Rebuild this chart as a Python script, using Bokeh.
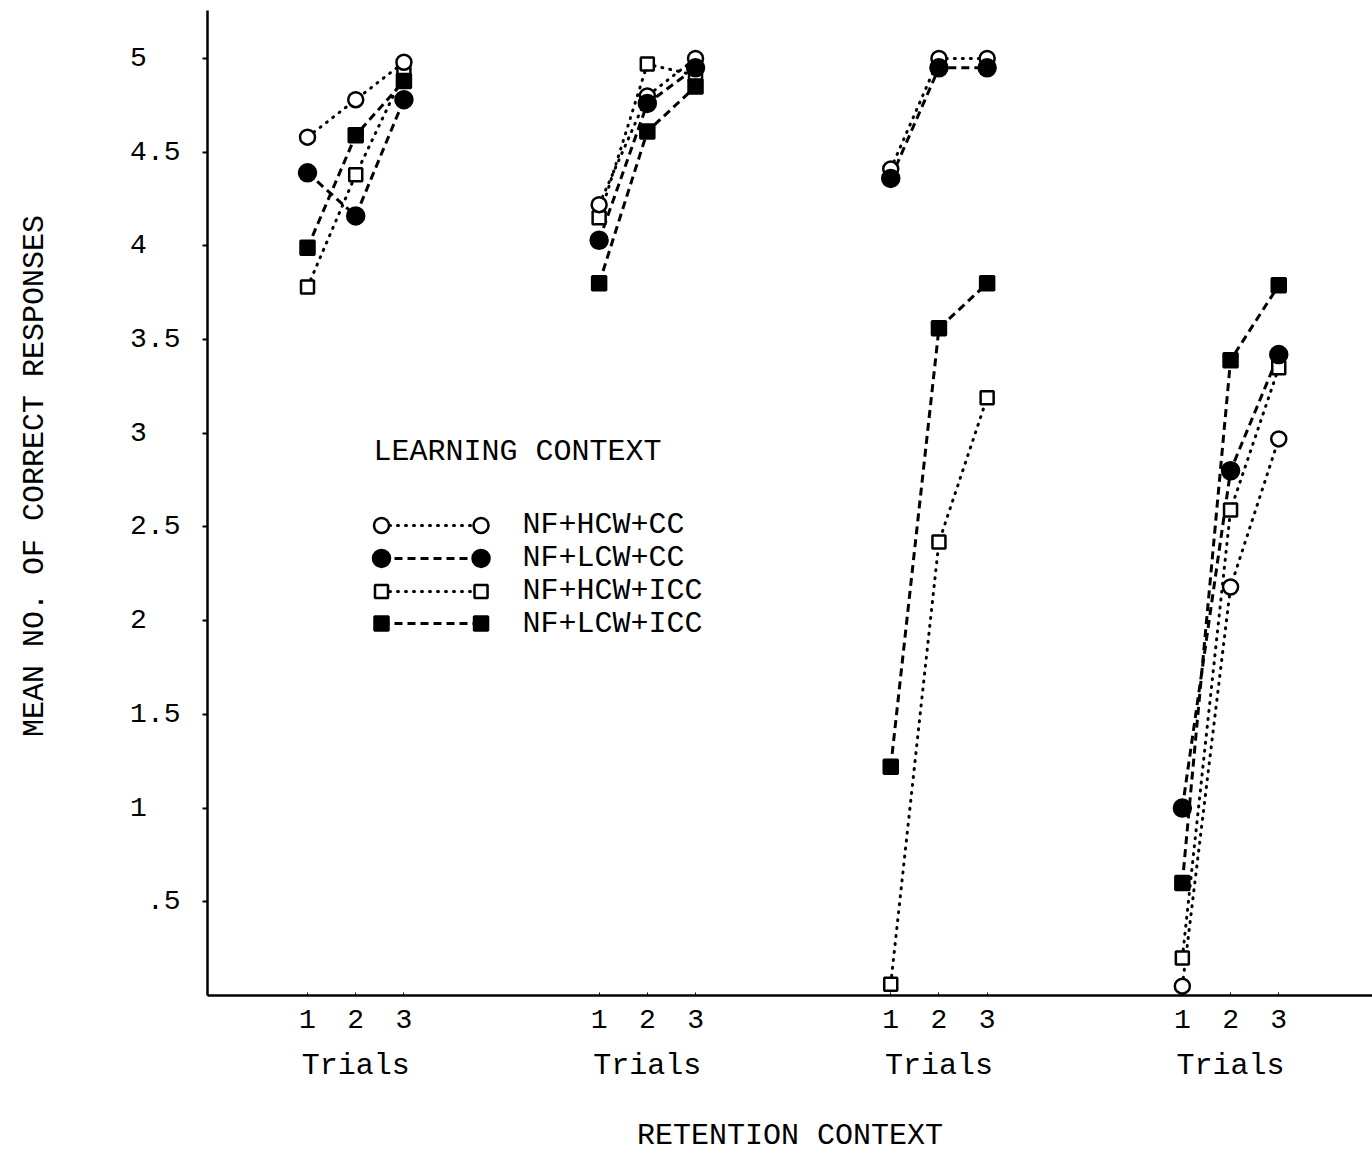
from bokeh.plotting import figure
from bokeh.models import FixedTicker, CustomJSTickFormatter, LinearAxis
from bokeh.core.properties import value
from bokeh.embed import file_html
from bokeh.resources import INLINE

# ---------------- data ----------------
trials = [1, 2, 3]
n_groups = 4  # retention contexts (unlabelled in the original)

series_names = ["NF+HCW+CC", "NF+LCW+CC", "NF+HCW+ICC", "NF+LCW+ICC"]

# mean no. of correct responses, one list per retention context (trial 1..3)
hcw_cc = [[4.58, 4.78, 4.98], [4.22, 4.80, 5.00], [4.41, 5.00, 5.00], [0.05, 2.18, 2.97]]
lcw_cc = [[4.39, 4.16, 4.78], [4.03, 4.76, 4.95], [4.36, 4.95, 4.95], [1.00, 2.80, 3.42]]
hcw_icc = [[3.78, 4.38, 4.92], [4.15, 4.97, 4.91], [0.06, 2.42, 3.19], [0.20, 2.59, 3.35]]
lcw_icc = [[3.99, 4.59, 4.88], [3.80, 4.61, 4.85], [1.22, 3.56, 3.80], [0.60, 3.39, 3.79]]

y_ticks = [0.5, 1, 1.5, 2, 2.5, 3, 3.5, 4, 4.5, 5]
y_tick_labels = [".5", "1\u00a0\u00a0", "1.5", "2\u00a0\u00a0", "2.5", "3\u00a0\u00a0",
                 "3.5", "4\u00a0\u00a0", "4.5", "5\u00a0\u00a0"]

# ---------------- layout / style ----------------
FONT = "Liberation Mono"
GAP = 6.05                     # distance between retention groups (in trial units)
X0, X1 = -1.075, 23.095
Y0, Y1 = 0.0, 5.256

styles = {
    "NF+HCW+CC": dict(marker="circle", fill="white", size=15, dash="1 7", cap="round", lw=3),
    "NF+LCW+CC": dict(marker="circle", fill="black", size=17, dash="8 5", cap="butt", lw=3),
    "NF+HCW+ICC": dict(marker="square", fill="white", size=13, dash="1 7", cap="round", lw=3),
    "NF+LCW+ICC": dict(marker="square", fill="black", size=14, dash="8 5", cap="butt", lw=3),
}
series_vals = {
    "NF+HCW+CC": hcw_cc,
    "NF+LCW+CC": lcw_cc,
    "NF+HCW+ICC": hcw_icc,
    "NF+LCW+ICC": lcw_icc,
}

p = figure(width=1372, height=1155, x_range=(X0, X1), y_range=(Y0, Y1),
           output_backend="svg", toolbar_location=None,
           min_border_left=207, min_border_right=0, min_border_top=10,
           min_border_bottom=160, background_fill_color="white",
           border_fill_color="white", outline_line_color=None)
p.grid.visible = False

def gx(g, t):
    return g * GAP + t

# lines
for name in series_names:
    st = styles[name]
    xs = [[gx(g, t) for t in trials] for g in range(n_groups)]
    ys = series_vals[name]
    p.multi_line(xs, ys, line_color="black", line_width=st["lw"],
                 line_dash=st["dash"], line_cap=st["cap"])

# markers
for name in ["NF+HCW+ICC", "NF+LCW+ICC", "NF+HCW+CC", "NF+LCW+CC"]:
    st = styles[name]
    xs = [gx(g, t) for g in range(n_groups) for t in trials]
    ys = [v for grp in series_vals[name] for v in grp]
    p.scatter(xs, ys, marker=st["marker"], size=st["size"], fill_color=st["fill"],
              line_color="black", line_width=2.5)

# ---------------- legend (drawn by hand) ----------------
LEG_TITLE_X, LEG_TITLE_Y = 2.37, 2.90
LEG_X_LEFT, LEG_X_RIGHT, LEG_X_TEXT = 2.535, 4.60, 5.46
LEG_ROWS_Y = [2.508, 2.332, 2.156, 1.985]

p.text(x=[LEG_TITLE_X], y=[LEG_TITLE_Y], text=["LEARNING CONTEXT"],
       text_font=value(FONT), text_font_size="30px", text_baseline="middle",
       text_align="left", text_color="black")
for name, ly in zip(series_names, LEG_ROWS_Y):
    st = styles[name]
    p.line([LEG_X_LEFT, LEG_X_RIGHT], [ly, ly], line_color="black", line_width=st["lw"],
           line_dash=st["dash"], line_cap=st["cap"])
    p.scatter([LEG_X_LEFT, LEG_X_RIGHT], [ly, ly], marker=st["marker"], size=st["size"],
              fill_color=st["fill"], line_color="black", line_width=2.5)
    p.text(x=[LEG_X_TEXT], y=[ly], text=[name], text_font=value(FONT),
           text_font_size="30px", text_baseline="middle", text_align="left",
           text_color="black")

# ---------------- axes ----------------
x_tick_pos = [gx(g, t) for g in range(n_groups) for t in trials]
x_tick_lab = [str(t) for g in range(n_groups) for t in trials]

xa = p.xaxis[0]
xa.ticker = FixedTicker(ticks=x_tick_pos)
xa.formatter = CustomJSTickFormatter(args=dict(labels=x_tick_lab), code="return labels[index];")
xa.axis_line_width = 2.5
xa.axis_line_color = "black"
xa.major_tick_in = 3
xa.major_tick_out = 0
xa.major_tick_line_color = "black"
xa.minor_tick_line_color = None
xa.major_label_text_font = FONT
xa.major_label_text_font_size = "28px"
xa.major_label_text_color = "black"
xa.major_label_standoff = 14

ax2 = LinearAxis(ticker=FixedTicker(ticks=[gx(g, 2) for g in range(n_groups)]),
                 formatter=CustomJSTickFormatter(code="return 'Trials';"),
                 axis_label="RETENTION CONTEXT")
ax2.axis_line_color = None
ax2.major_tick_line_color = None
ax2.minor_tick_line_color = None
ax2.major_label_text_font = FONT
ax2.major_label_text_font_size = "30px"
ax2.major_label_text_color = "black"
ax2.major_label_standoff = 12
ax2.axis_label_text_font = FONT
ax2.axis_label_text_font_size = "30px"
ax2.axis_label_text_font_style = "normal"
ax2.axis_label_text_color = "black"
ax2.axis_label_standoff = 33
p.add_layout(ax2, "below")

ya = p.yaxis[0]
ya.ticker = FixedTicker(ticks=y_ticks)
ya.formatter = CustomJSTickFormatter(args=dict(labels=y_tick_labels), code="return labels[index];")
ya.axis_line_width = 2.5
ya.axis_line_color = "black"
ya.major_tick_in = 0
ya.major_tick_out = 5
ya.major_tick_line_width = 2
ya.major_tick_line_color = "black"
ya.minor_tick_line_color = None
ya.major_label_text_font = FONT
ya.major_label_text_font_size = "28px"
ya.major_label_text_color = "black"
ya.major_label_standoff = 22
ya.axis_label = "\u00a0\u00a0\u00a0MEAN NO. OF CORRECT RESPONSES"
ya.axis_label_text_font = FONT
ya.axis_label_text_font_size = "30px"
ya.axis_label_text_font_style = "normal"
ya.axis_label_text_color = "black"
ya.axis_label_standoff = 75

open("out.html", "w").write(file_html(p, INLINE))
